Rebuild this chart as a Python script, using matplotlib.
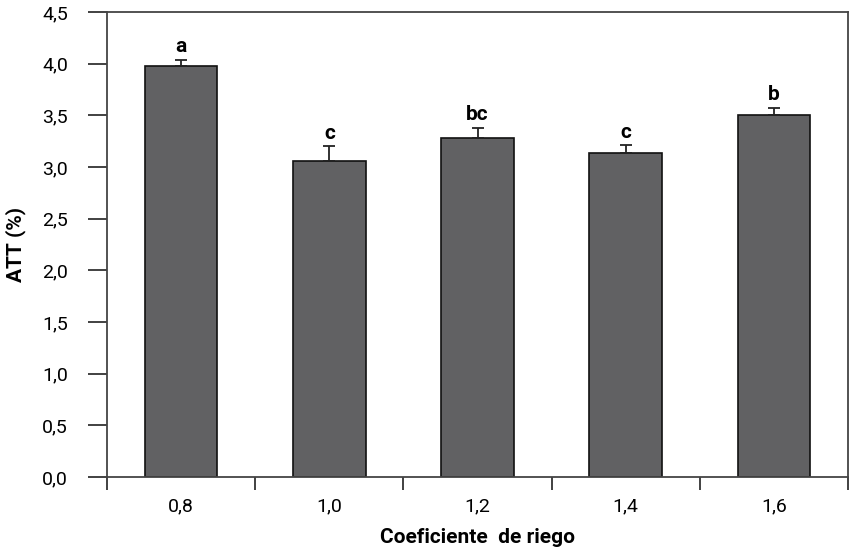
import matplotlib
matplotlib.use("Agg")
import matplotlib.pyplot as plt
import numpy as np

plt.rcParams['font.family'] = ['Roboto', 'DejaVu Sans']

categories = ["0,8", "1,0", "1,2", "1,4", "1,6"]
values = [3.98, 3.06, 3.28, 3.14, 3.50]
errors = [0.06, 0.14, 0.10, 0.07, 0.07]
letters = ["a", "c", "bc", "c", "b"]
yticks = [0.0, 0.5, 1.0, 1.5, 2.0, 2.5, 3.0, 3.5, 4.0, 4.5]
ytick_labels = ["0,0", "0,5", "1,0", "1,5", "2,0", "2,5", "3,0", "3,5", "4,0", "4,5"]

fig = plt.figure(figsize=(8.5, 5.52), dpi=100)
ax = fig.add_axes([107/850, 1-477/552, (848-107)/850, (477-12)/552])

x = np.arange(len(categories))
ax.bar(x, values, width=0.49, color="#616163", edgecolor="#111111", linewidth=1.2, zorder=2)
ax.errorbar(x, values, yerr=[np.zeros(len(errors)), errors], fmt="none",
            ecolor="#222222", elinewidth=1.3, capsize=4, capthick=1.3, zorder=3)
for xi, v, e, l in zip(x, values, errors, letters):
    ax.text(xi, v + e + 0.035, l, ha="center", va="bottom", fontsize=15, fontweight="bold")

ax.set_xlim(-0.5, len(categories) - 0.5)
ax.set_ylim(0, 4.5)
ax.set_yticks(yticks)
ax.set_yticklabels(ytick_labels, fontsize=14)
ax.set_xticks(np.arange(-0.5, len(categories), 1.0))
ax.set_xticklabels([])
ax.set_xticks(x, minor=True)
ax.set_xticklabels(categories, minor=True, fontsize=14)
ax.tick_params(axis="x", which="major", direction="out", length=9, width=1.3, color="#333333")
ax.tick_params(axis="x", which="minor", length=0, pad=15)
ax.tick_params(axis="y", direction="out", length=14, width=1.3, color="#333333", pad=14)

for s in ax.spines.values():
    s.set_linewidth(1.3)
    s.set_color("#444444")

ax.set_xlabel("Coeficiente  de riego", fontsize=15, fontweight="bold", labelpad=9)
ax.set_ylabel("ATT (%)", fontsize=15, fontweight="bold", labelpad=12)

fig.savefig("out.png", dpi=100)
